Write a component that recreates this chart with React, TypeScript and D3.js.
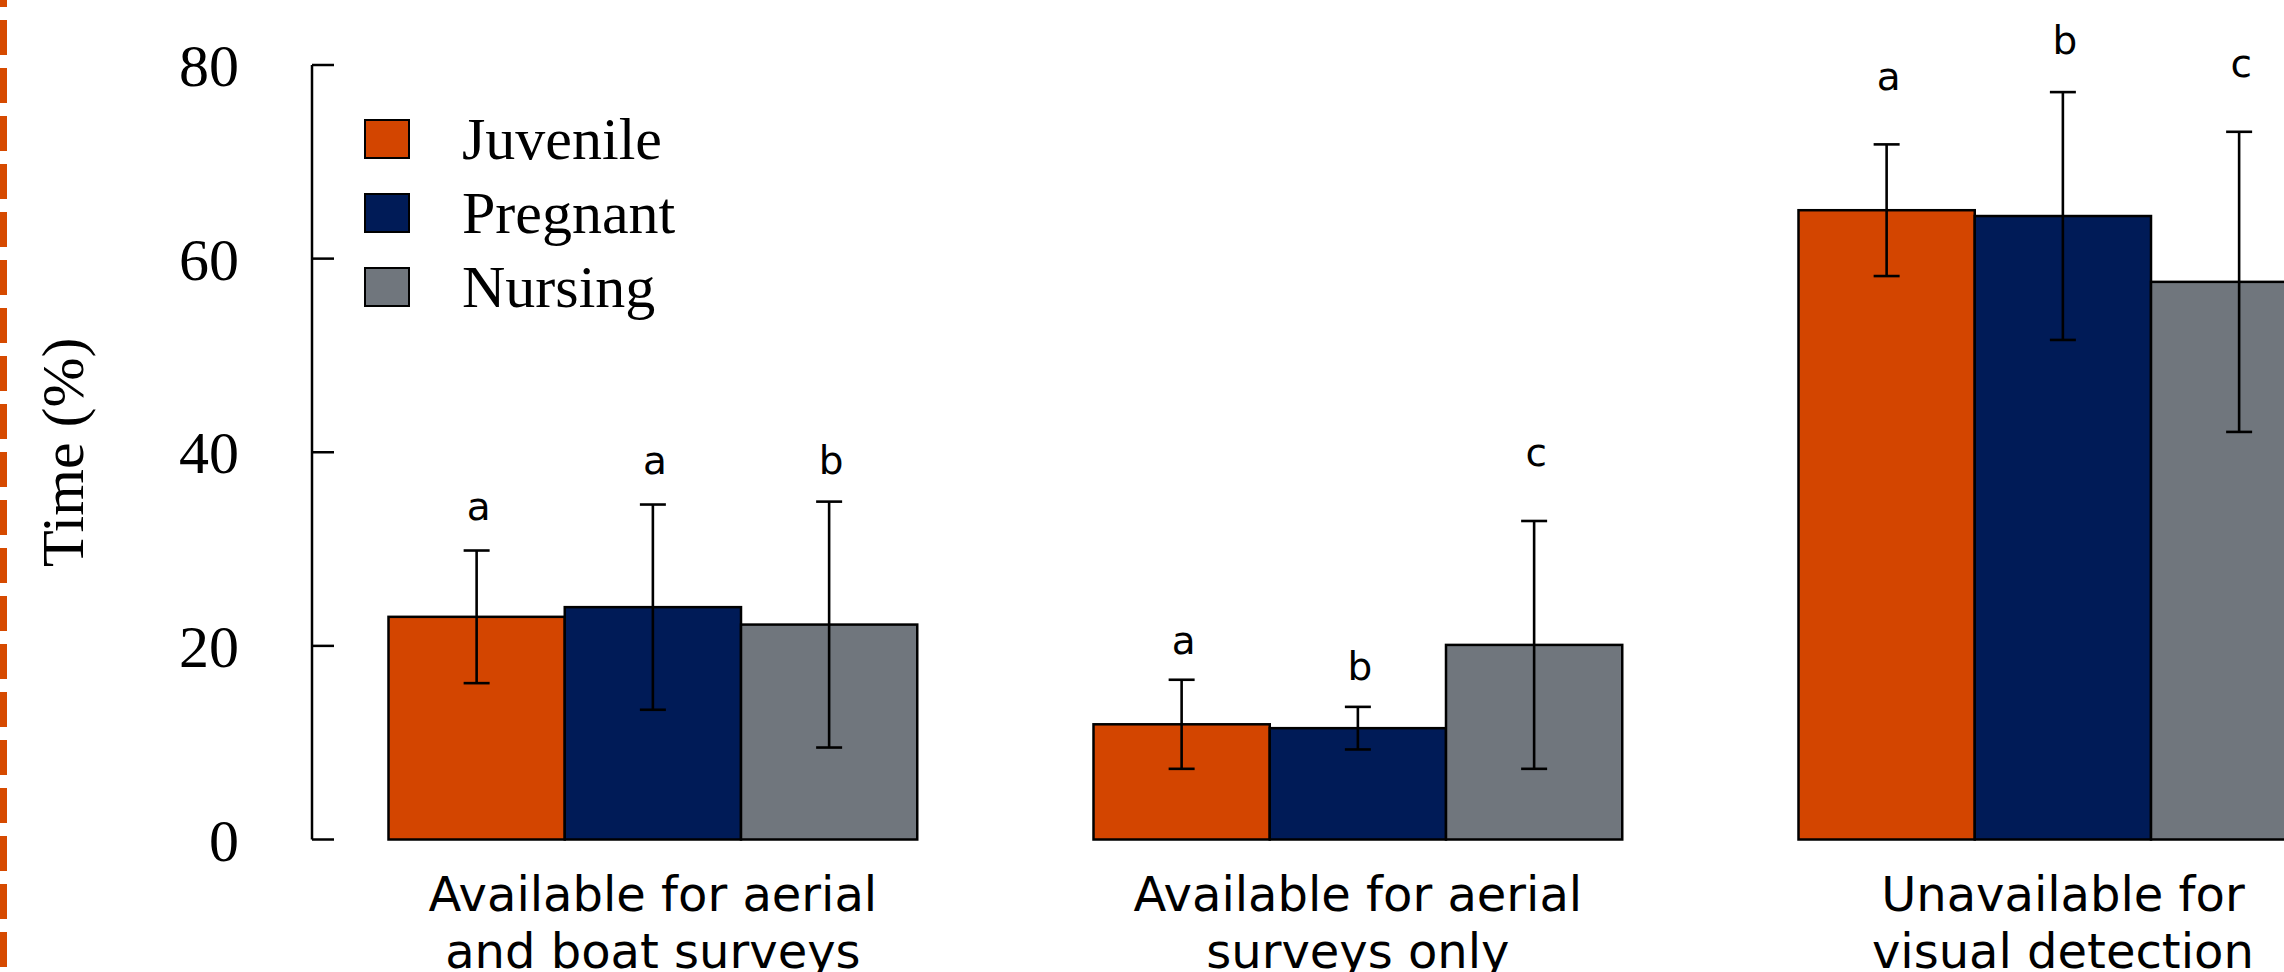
import React from "react";
import * as d3 from "d3";

const categories = [
  ["Available for aerial", "and boat surveys"],
  ["Available for aerial", "surveys only"],
  ["Unavailable for", "visual detection"],
];
const seriesNames = ["Juvenile", "Pregnant", "Nursing"];
const seriesColors = ["#D34500", "#001B57", "#70767D"];

const juvenile = [23.0, 11.9, 65.0];
const pregnant = [24.0, 11.5, 64.4];
const nursing = [22.2, 20.1, 57.6];

const juvenileSd = [6.85, 4.6, 6.8];
const pregnantSd = [10.6, 2.2, 12.8];
const nursingSd = [12.7, 12.8, 15.5];

const juvenileLetters = ["a", "a", "a"];
const pregnantLetters = ["a", "b", "b"];
const nursingLetters = ["b", "c", "c"];

// letter baseline positions in data units (% time)
const juvenileLetterY = [33.0, 19.2, 77.4];
const pregnantLetterY = [37.8, 16.5, 81.1];
const nursingLetterY = [37.8, 38.6, 78.8];

const yTicks = [0, 20, 40, 60, 80];

const W = 2284;
const H = 972;

export default function App() {
  const catKeys = categories.map((c) => c.join(" "));
  const x = d3
    .scaleBand<string>()
    .domain(catKeys)
    .range([388.5, 388.5 + 705 * 2.75])
    .paddingInner(0.25)
    .paddingOuter(0);
  const xs = d3
    .scaleBand<string>()
    .domain(seriesNames)
    .range([0, x.bandwidth()]);
  const y = d3.scaleLinear().domain([0, 80]).range([839.5, 65]);

  const values = [juvenile, pregnant, nursing];
  const sds = [juvenileSd, pregnantSd, nursingSd];
  const letters = [juvenileLetters, pregnantLetters, nursingLetters];
  const letterY = [juvenileLetterY, pregnantLetterY, nursingLetterY];

  const serif = "'Liberation Serif', 'Times New Roman', serif";
  const sans = "'DejaVu Sans', Verdana, sans-serif";
  const axisX = 312;
  const capW = 26;

  return (
    <svg
      width={W}
      height={H}
      viewBox={`0 0 ${W} ${H}`}
      style={{ position: "absolute", left: 0, top: 0, display: "block", background: "#fff" }}
    >
      <rect x={0} y={0} width={W} height={H} fill="#fff" />
      {/* dashed border line at left */}
      <line
        x1={3.5}
        x2={3.5}
        y1={0}
        y2={H}
        stroke="#D64A00"
        strokeWidth={7}
        strokeDasharray="35 13"
        strokeDashoffset={28}
      />

      {/* bars */}
      {catKeys.map((ck, ci) => (
        <g key={ck} transform={`translate(${x(ck)},0)`}>
          {seriesNames.map((s, si) => {
            const v = values[si][ci];
            const bx = xs(s) as number;
            return (
              <rect
                key={s}
                x={bx}
                y={y(v)}
                width={xs.bandwidth()}
                height={y(0) - y(v)}
                fill={seriesColors[si]}
                stroke="#000"
                strokeWidth={2.5}
              />
            );
          })}
          {seriesNames.map((s, si) => {
            const v = values[si][ci];
            const sd = sds[si][ci];
            const cx = (xs(s) as number) + xs.bandwidth() / 2;
            return (
              <g key={s + "err"} stroke="#000" strokeWidth={2.6}>
                <line x1={cx} x2={cx} y1={y(v + sd)} y2={y(v - sd)} />
                <line x1={cx - capW / 2} x2={cx + capW / 2} y1={y(v + sd)} y2={y(v + sd)} />
                <line x1={cx - capW / 2} x2={cx + capW / 2} y1={y(v - sd)} y2={y(v - sd)} />
              </g>
            );
          })}
          {seriesNames.map((s, si) => {
            const cx = (xs(s) as number) + xs.bandwidth() / 2 + 2;
            return (
              <text
                key={s + "lt"}
                x={cx}
                y={y(letterY[si][ci])}
                textAnchor="middle"
                fontFamily={sans}
                fontSize={39}
                fill="#000"
              >
                {letters[si][ci]}
              </text>
            );
          })}
          <text
            x={x.bandwidth() / 2}
            y={910.5}
            textAnchor="middle"
            fontFamily={sans}
            fontSize={48}
            fill="#000"
          >
            <tspan x={x.bandwidth() / 2}>{categories[ci][0]}</tspan>
            <tspan x={x.bandwidth() / 2} dy={57}>
              {categories[ci][1]}
            </tspan>
          </text>
        </g>
      ))}

      {/* y axis */}
      <line x1={axisX} x2={axisX} y1={y(80)} y2={y(0)} stroke="#000" strokeWidth={2.5} />
      {yTicks.map((t) => (
        <g key={t}>
          <line x1={axisX} x2={axisX + 22} y1={y(t)} y2={y(t)} stroke="#000" strokeWidth={2.5} />
          <text
            x={239}
            y={y(t) + 21}
            textAnchor="end"
            fontFamily={serif}
            fontSize={60}
            fill="#000"
          >
            {t}
          </text>
        </g>
      ))}
      <text
        transform={`translate(83, ${(y(0) + y(80)) / 2}) rotate(-90)`}
        textAnchor="middle"
        fontFamily={serif}
        fontSize={60}
        fill="#000"
      >
        Time (%)
      </text>

      {/* legend */}
      {seriesNames.map((s, si) => (
        <g key={s + "leg"} transform={`translate(365, ${120 + si * 74})`}>
          <rect x={0} y={0} width={44} height={38} fill={seriesColors[si]} stroke="#000" strokeWidth={2} />
          <text x={97} y={39} fontFamily={serif} fontSize={60} fill="#000">
            {s}
          </text>
        </g>
      ))}
    </svg>
  );
}
